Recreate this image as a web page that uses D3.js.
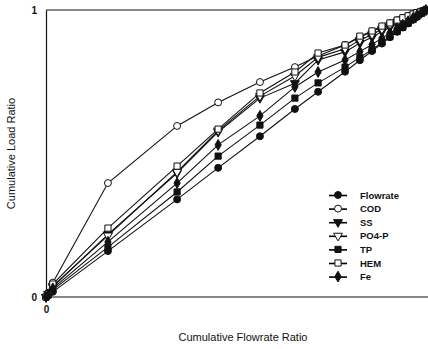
<!DOCTYPE html>
<html>
<head>
<meta charset="utf-8">
<script src="https://cdn.jsdelivr.net/npm/d3@7"></script>
<style>
  body { margin: 0; background: #fff; }
  svg { display: block; font-family: "Liberation Sans", Arial, sans-serif; }
</style>
</head>
<body>
<svg id="chart" width="428" height="349"></svg>
<script>
// cumulative flowrate ratio at each sample
const flowX = [0, 0.006, 0.018, 0.163, 0.345, 0.453, 0.563, 0.655, 0.716, 0.787, 0.826,
  0.858, 0.884, 0.905, 0.924, 0.939, 0.953, 0.966, 0.976, 0.987, 0.995, 1.0];

// cumulative load ratio per parameter
const flowrate = [0, 0.006, 0.018, 0.16, 0.34, 0.45, 0.56, 0.655, 0.715, 0.785, 0.825,
  0.857, 0.883, 0.905, 0.924, 0.939, 0.953, 0.966, 0.976, 0.987, 0.995, 1];
const cod = [0, 0.015, 0.05, 0.397, 0.596, 0.678, 0.749, 0.801, 0.84, 0.878, 0.905,
  0.925, 0.942, 0.954, 0.964, 0.972, 0.979, 0.985, 0.99, 0.995, 0.998, 1];
const ss = [0, 0.01, 0.035, 0.218, 0.432, 0.575, 0.693, 0.745, 0.826, 0.854, 0.885,
  0.905, 0.925, 0.94, 0.953, 0.963, 0.972, 0.98, 0.986, 0.992, 0.996, 1];
const po4p = [0, 0.01, 0.038, 0.214, 0.436, 0.58, 0.70, 0.77, 0.835, 0.865, 0.895,
  0.915, 0.933, 0.947, 0.958, 0.968, 0.976, 0.983, 0.989, 0.994, 0.997, 1];
const tp = [0, 0.007, 0.025, 0.174, 0.366, 0.491, 0.599, 0.693, 0.746, 0.801, 0.835,
  0.862, 0.887, 0.907, 0.925, 0.94, 0.954, 0.967, 0.977, 0.988, 0.995, 1];
const hem = [0, 0.012, 0.045, 0.240, 0.456, 0.585, 0.711, 0.784, 0.85, 0.878, 0.909,
  0.927, 0.944, 0.955, 0.965, 0.973, 0.98, 0.986, 0.991, 0.995, 0.998, 1];
const fe = [0, 0.008, 0.03, 0.192, 0.397, 0.530, 0.631, 0.732, 0.784, 0.826, 0.855,
  0.88, 0.902, 0.92, 0.936, 0.949, 0.961, 0.972, 0.981, 0.99, 0.996, 1];

const seriesNames = ["Flowrate", "COD", "SS", "PO4-P", "TP", "HEM", "Fe"];
const seriesValues = [flowrate, cod, ss, po4p, tp, hem, fe];
const symbolTypes = [d3.symbolCircle, d3.symbolCircle, d3.symbolTriangle, d3.symbolTriangle,
  d3.symbolSquare, d3.symbolSquare, d3.symbolDiamond];
const symbolFilled = [true, false, true, false, true, false, true];
const symbolFlip = [false, false, true, true, false, false, false];

const yTicks = [0, 1];
const xTicks = [0];

const svg = d3.select("#chart");
const margin = { left: 46, right: 2, top: 10, bottom: 52 };
const width = 428, height = 349;

const x = d3.scaleLinear().domain([0, 1]).range([margin.left, width - margin.right]);
const y = d3.scaleLinear().domain([0, 1]).range([height - margin.bottom, margin.top]);

// frame: top and bottom rules plus left axis
svg.append("line")
  .attr("x1", margin.left).attr("x2", width)
  .attr("y1", y(1)).attr("y2", y(1))
  .attr("stroke", "#111").attr("stroke-width", 1.2);

const xAxis = svg.append("g")
  .attr("transform", `translate(0,${y(0)})`)
  .call(d3.axisBottom(x).tickValues(xTicks).tickSize(0).tickPadding(9).tickFormat(d3.format("d")));
xAxis.select(".domain").attr("d", `M${margin.left},0H${width}`).attr("stroke", "#111").attr("stroke-width", 1.2);

const yAxis = svg.append("g")
  .attr("transform", `translate(${margin.left},0)`)
  .call(d3.axisLeft(y).tickValues(yTicks).tickSize(0).tickPadding(9).tickFormat(d3.format("d")));
yAxis.select(".domain").attr("stroke", "#111").attr("stroke-width", 1.2);

svg.selectAll(".tick text")
  .attr("font-family", "Liberation Sans, Arial, sans-serif")
  .attr("font-size", 10).attr("font-weight", "bold").attr("fill", "#111");

// axis titles
svg.append("text")
  .attr("x", 243).attr("y", 341)
  .attr("text-anchor", "middle")
  .attr("font-size", 11).attr("fill", "#111")
  .text("Cumulative Flowrate Ratio");

svg.append("text")
  .attr("transform", `translate(15,${(y(0) + y(1)) / 2}) rotate(-90)`)
  .attr("text-anchor", "middle")
  .attr("font-size", 11).attr("fill", "#111")
  .text("Cumulative Load Ratio");

const line = d3.line()
  .x((d, i) => x(flowX[i]))
  .y(d => y(d));

function symbolPath(k) {
  const size = symbolTypes[k] === d3.symbolTriangle ? 34 : (symbolTypes[k] === d3.symbolDiamond ? 34 : 38);
  return d3.symbol().type(symbolTypes[k]).size(size)();
}

function markerTransform(k, px, py) {
  return `translate(${px},${py})` + (symbolFlip[k] ? " rotate(180)" : "");
}

seriesValues.forEach((vals, k) => {
  const g = svg.append("g").attr("class", "series");
  g.append("path")
    .attr("d", line(vals))
    .attr("fill", "none")
    .attr("stroke", "#111")
    .attr("stroke-width", 1.1);
  g.selectAll("path.mark")
    .data(vals)
    .enter().append("path")
    .attr("class", "mark")
    .attr("d", symbolPath(k))
    .attr("transform", (d, i) => markerTransform(k, x(flowX[i]), y(d)))
    .attr("fill", symbolFilled[k] ? "#111" : "#fff")
    .attr("stroke", "#111")
    .attr("stroke-width", 1);
});

// legend: short rule with the series marker centred on it
const legend = svg.append("g").attr("transform", "translate(329,195)");
seriesNames.forEach((name, k) => {
  const row = legend.append("g").attr("transform", `translate(0,${k * 13.6})`);
  row.append("path")
    .attr("d", "M0,0.5H18")
    .attr("fill", "none")
    .attr("stroke", "#000").attr("stroke-width", 1.6);
  row.append("path")
    .attr("d", symbolPath(k))
    .attr("transform", markerTransform(k, 9, 0))
    .attr("fill", symbolFilled[k] ? "#111" : "#fff")
    .attr("stroke", "#111");
  row.append("text")
    .attr("x", 31).attr("y", 3.5)
    .attr("font-size", 9.5).attr("font-weight", "bold").attr("fill", "#111")
    .text(name);
});
</script>
</body>
</html>
